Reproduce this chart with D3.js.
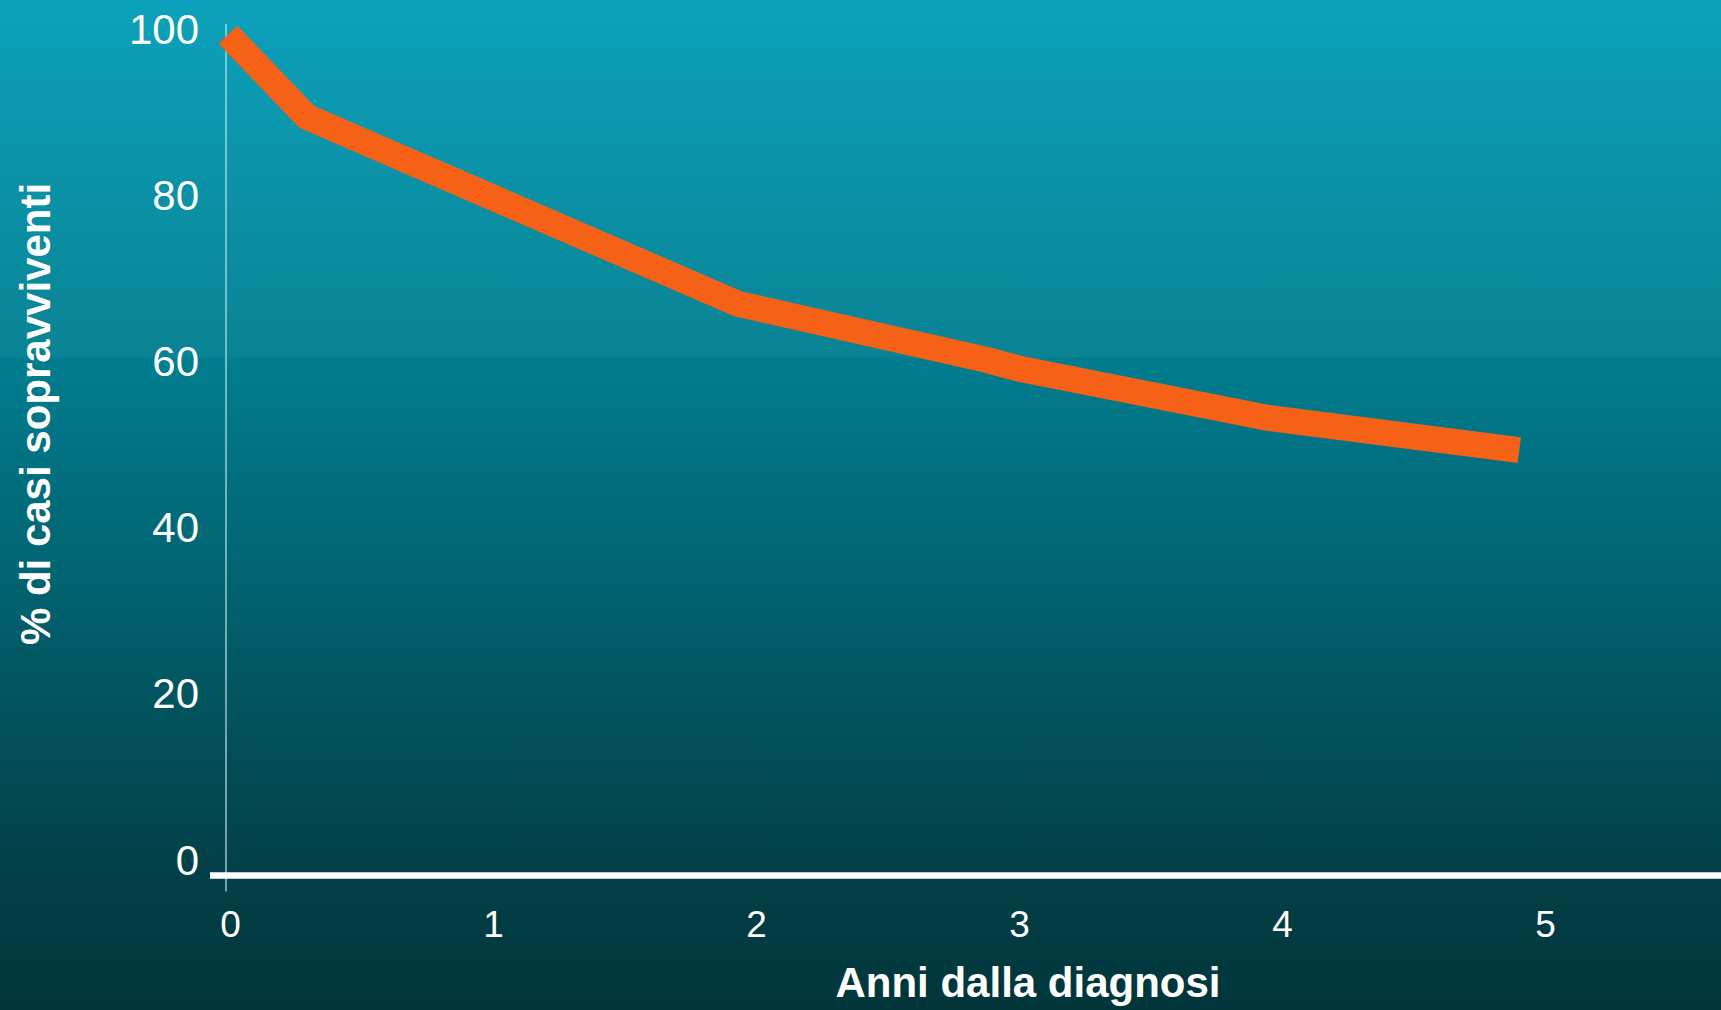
<!DOCTYPE html>
<html>
<head>
<meta charset="utf-8">
<title>Sopravvivenza</title>
<style>

body {
  margin: 0;
  overflow: hidden;
  font-family: "Liberation Sans", Arial, Helvetica, sans-serif;
}

svg {
  display: block;
}

g.tick text {
  fill: #fff;
}

.title {
  fill: #fff;
  font-weight: 700;
  font-size: 42px;
}

</style>
</head>
<body>
<svg width="1721" height="1010"></svg>
<script src="https://d3js.org/d3.v7.min.js"></script>
<script>

// years since diagnosis and % of surviving cases
var years = [0, 0.3, 1.94, 2.88, 3.01, 3.95, 4.91];
var survival = [99.2, 89.3, 66.8, 60.1, 59.0, 53.1, 49.2];

var xTicks = [0, 1, 2, 3, 4, 5];
var yTicks = [0, 20, 40, 60, 80, 100];

var xTitle = "Anni dalla diagnosi",
    yTitle = "% di casi sopravviventi";

var width = 1721,
    height = 1010;

var svg = d3.select("svg");

// background gradient
var grad = svg.append("defs").append("linearGradient")
    .attr("id", "bg")
    .attr("x1", 0).attr("y1", 0)
    .attr("x2", 0).attr("y2", 1);

[["0%", "#0ca1bb"], ["35.2%", "#0a8394"], ["35.6%", "#017d8f"], ["86%", "#034048"], ["100%", "#01353a"]]
  .forEach(function(s) {
    grad.append("stop").attr("offset", s[0]).attr("stop-color", s[1]);
  });

svg.append("rect")
    .attr("width", width)
    .attr("height", height)
    .attr("fill", "url(#bg)");

var x = d3.scaleLinear()
    .domain([0, 5])
    .range([228, 1543]);

var y = d3.scaleLinear()
    .domain([0, 100])
    .range([859, 28]);

var baseY = y(0) + 16.5;

// vertical axis line
svg.append("line")
    .attr("x1", x(0) - 2).attr("x2", x(0) - 2)
    .attr("y1", y(100) - 4).attr("y2", baseY + 16)
    .attr("stroke", "#c8eef4")
    .attr("stroke-opacity", 0.75)
    .attr("stroke-width", 1.5);

// y axis labels
svg.append("g")
    .attr("transform", "translate(" + (x(0) - 29) + ",0)")
    .call(d3.axisLeft(y)
      .tickValues(yTicks)
      .tickFormat(d3.format("d"))
      .tickSize(0)
      .tickPadding(0))
    .call(function(g) { g.select(".domain").remove(); })
    .selectAll("text")
      .attr("dy", "0.36em")
      .style("font-size", "42px")
      .style("font-family", "'Liberation Sans', Arial, sans-serif");

// x axis labels
svg.append("g")
    .attr("transform", "translate(2," + baseY + ")")
    .call(d3.axisBottom(x)
      .tickValues(xTicks)
      .tickFormat(d3.format("d"))
      .tickSize(0)
      .tickPadding(35))
    .call(function(g) { g.select(".domain").remove(); })
    .selectAll("text")
      .attr("dy", "0.71em")
      .style("font-size", "37px")
      .style("font-family", "'Liberation Sans', Arial, sans-serif");

// white baseline
svg.append("line")
    .attr("x1", x(0) - 18).attr("x2", width)
    .attr("y1", baseY).attr("y2", baseY)
    .attr("stroke", "#fff")
    .attr("stroke-width", 6.5);

// survival curve
var line = d3.line()
    .x(function(d, i) { return x(years[i]); })
    .y(function(d) { return y(d); });

svg.append("path")
    .datum(survival)
    .attr("d", line)
    .attr("fill", "none")
    .attr("stroke", "#f56116")
    .attr("stroke-width", 26)
    .attr("stroke-linejoin", "miter")
    .attr("stroke-linecap", "butt");

// axis titles
svg.append("text")
    .attr("class", "title")
    .attr("x", 1028)
    .attr("y", 997)
    .attr("text-anchor", "middle")
    .text(xTitle);

svg.append("text")
    .attr("class", "title")
    .attr("transform", "translate(50,414) rotate(-90)")
    .attr("text-anchor", "middle")
    .text(yTitle);

</script>
</body>
</html>
